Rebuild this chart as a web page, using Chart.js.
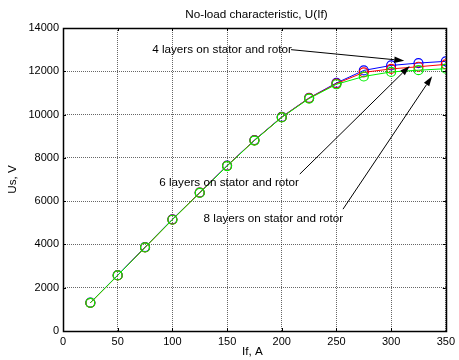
<!DOCTYPE html>
<html>
<head>
<meta charset="utf-8">
<script src="https://cdn.jsdelivr.net/npm/chart.js@4.4.0/dist/chart.umd.min.js"></script>
<style>
  html, body { margin: 0; padding: 0; background: #fff; }
  #wrap { width: 459px; height: 360px; }
</style>
</head>
<body>
<div id="wrap"><canvas id="chart" width="459" height="360"></canvas></div>
<script>
// field current, A
const fieldCurrent = [25, 50, 75, 100, 125, 150, 175, 200, 225, 250, 275, 300, 325, 350];
// stator voltage, V
const us4layers = [1310, 2580, 3880, 5160, 6400, 7640, 8820, 9890, 10770, 11460, 12040, 12270, 12380, 12460];
const us6layers = [1300, 2570, 3860, 5150, 6390, 7630, 8810, 9880, 10760, 11430, 11950, 12110, 12210, 12320];
const us8layers = [1300, 2570, 3860, 5140, 6380, 7620, 8800, 9870, 10740, 11400, 11760, 11970, 12050, 12120];

const xTicks = [0, 50, 100, 150, 200, 250, 300, 350];
const yTicks = [0, 2000, 4000, 6000, 8000, 10000, 12000, 14000];

const chartTitle = 'No-load characteristic, U(If)';
const xTitle = 'If, A';
const yTitle = 'Us, V';

// text labels with arrows, in data units: text anchor (left, middle), arrow tail, arrow tip
const arrowNotes = [
    { text: '4 layers on stator and rotor', tx: 81.5, ty: 13000, ax: 208.5, ay: 13000, bx: 312, by: 12490 },
    { text: '6 layers on stator and rotor', tx: 88, ty: 6860, ax: 216.5, ay: 7250, bx: 317, by: 12250 },
    { text: '8 layers on stator and rotor', tx: 128.5, ty: 5170, ax: 256, ay: 5630, bx: 337.5, by: 11770 }
];

const FAMILY = '"Liberation Sans", Arial, sans-serif';
const FONT = '11.7px ' + FAMILY;

function toPoints(ys) {
    return fieldCurrent.map((x, i) => ({ x: x, y: ys[i] }));
}

function lineSet(label, data, color, order) {
    return {
        label: label,
        data: toPoints(data),
        borderColor: color,
        backgroundColor: 'rgba(0,0,0,0)',
        borderWidth: 1,
        pointRadius: 4.5,
        pointBorderWidth: 1.2,
        pointBorderColor: color,
        pointBackgroundColor: 'rgba(0,0,0,0)',
        pointStyle: 'circle',
        tension: 0,
        fill: false,
        order: order
    };
}

// frame, inward ticks, titles and the arrow notes
const matlabDecor = {
    id: 'matlabDecor',
    afterDraw(chart) {
        const ctx = chart.ctx;
        const a = chart.chartArea;
        const xs = chart.scales.x;
        const ys = chart.scales.y;
        ctx.save();

        // inward ticks
        ctx.strokeStyle = '#000';
        ctx.lineWidth = 1;
        ctx.beginPath();
        xTicks.forEach(v => {
            const px = Math.round(xs.getPixelForValue(v)) + 0.5;
            ctx.moveTo(px, a.bottom); ctx.lineTo(px, a.bottom - 3);
            ctx.moveTo(px, a.top); ctx.lineTo(px, a.top + 3);
        });
        yTicks.forEach(v => {
            const py = Math.round(ys.getPixelForValue(v)) + 0.5;
            ctx.moveTo(a.left, py); ctx.lineTo(a.left + 3, py);
            ctx.moveTo(a.right, py); ctx.lineTo(a.right - 3, py);
        });
        ctx.stroke();

        // box
        ctx.lineWidth = 1.5;
        ctx.strokeRect(Math.round(a.left) + 0.5, Math.round(a.top) + 0.5,
            Math.round(a.right - a.left), Math.round(a.bottom - a.top));

        // titles
        ctx.fillStyle = '#000';
        ctx.font = FONT;
        ctx.textAlign = 'center';
        ctx.textBaseline = 'middle';
        ctx.fillText(chartTitle, (a.left + a.right) / 2 + 2, 15);
        ctx.fillText(xTitle, (a.left + a.right) / 2 - 2, 352);
        ctx.save();
        ctx.translate(13, (a.top + a.bottom) / 2);
        ctx.rotate(-Math.PI / 2);
        ctx.fillText(yTitle, 0, 0);
        ctx.restore();

        // arrow notes
        arrowNotes.forEach(n => {
            ctx.textAlign = 'left';
            ctx.textBaseline = 'middle';
            ctx.fillText(n.text, xs.getPixelForValue(n.tx), ys.getPixelForValue(n.ty));
            const x1 = xs.getPixelForValue(n.ax), y1 = ys.getPixelForValue(n.ay);
            const x2 = xs.getPixelForValue(n.bx), y2 = ys.getPixelForValue(n.by);
            const ang = Math.atan2(y2 - y1, x2 - x1);
            const hl = 10, hw = 3.2;
            const bx = x2 - hl * Math.cos(ang), by = y2 - hl * Math.sin(ang);
            ctx.lineWidth = 1;
            ctx.beginPath();
            ctx.moveTo(x1, y1);
            ctx.lineTo(bx, by);
            ctx.stroke();
            ctx.beginPath();
            ctx.moveTo(x2, y2);
            ctx.lineTo(bx - hw * Math.sin(ang), by + hw * Math.cos(ang));
            ctx.lineTo(bx + hw * Math.sin(ang), by - hw * Math.cos(ang));
            ctx.closePath();
            ctx.fill();
        });
        ctx.restore();
    }
};

const gridOpts = {
    color: 'rgba(0,0,0,0.6)',
    lineWidth: 1,
    drawTicks: false,
    borderDash: [1, 1]
};

const tickFont = { family: FAMILY, size: 11 };

new Chart(document.getElementById('chart').getContext('2d'), {
    type: 'line',
    data: {
        datasets: [
            lineSet('4 layers on stator and rotor', us4layers, '#0000ff', 3),
            lineSet('6 layers on stator and rotor', us6layers, '#ff0000', 2),
            lineSet('8 layers on stator and rotor', us8layers, '#00f000', 1)
        ]
    },
    options: {
        responsive: false,
        animation: false,
        devicePixelRatio: 1,
        layout: { padding: { left: 0, right: 9, top: 28, bottom: 0 } },
        plugins: {
            legend: { display: false },
            title: { display: false },
            tooltip: { enabled: false }
        },
        scales: {
            x: {
                type: 'linear',
                min: 0,
                max: 350,
                grid: gridOpts,
                border: { display: false, dash: [1, 1] },
                afterFit: s => { s.height = 29; },
                afterBuildTicks: s => { s.ticks = xTicks.map(v => ({ value: v })); },
                ticks: { color: '#000', font: tickFont, padding: 4, maxRotation: 0, callback: v => String(v) }
            },
            y: {
                type: 'linear',
                min: 0,
                max: 14000,
                grid: gridOpts,
                border: { display: false, dash: [1, 1] },
                afterFit: s => { s.width = 63; },
                afterBuildTicks: s => { s.ticks = yTicks.map(v => ({ value: v })); },
                ticks: { color: '#000', font: tickFont, padding: 4, callback: v => String(v) }
            }
        }
    },
    plugins: [matlabDecor]
});
</script>
</body>
</html>
